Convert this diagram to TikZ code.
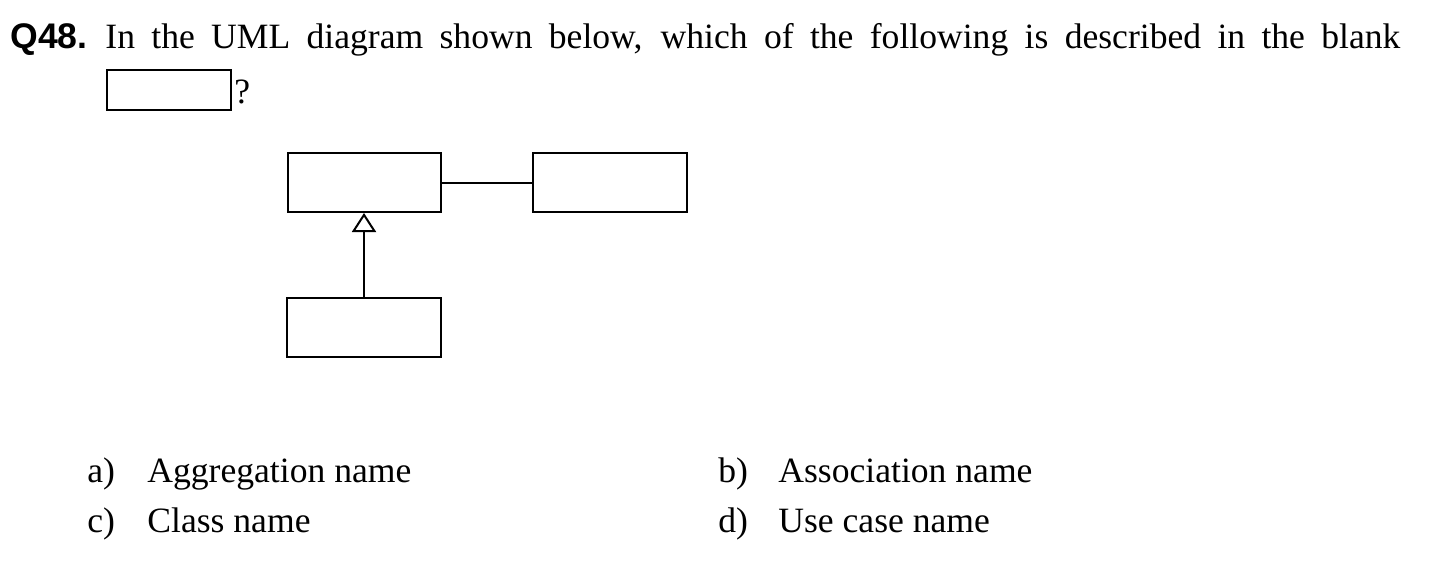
\documentclass[tikz,border=0pt]{standalone}
\usepackage{fontspec}
\setmainfont{Liberation Serif}
\newfontfamily\qfont{Liberation Sans}
\usetikzlibrary{arrows.meta}
\tikzset{
  txt/.style={anchor=base west, inner sep=0pt, font=\fontsize{17.8pt}{21pt}\selectfont},
  umlbox/.style={draw, line width=1pt, inner sep=0pt, minimum height=29.5pt},
  conn/.style={line width=1pt},
  gen/.style={conn, -{Triangle[open, length=9.5pt, width=12pt, line width=1pt]}}
}
\begin{document}
\begin{tikzpicture}[x=0.5pt, y=-0.5pt]
\useasboundingbox (0,0) rectangle (1450,568);
% question
\node[txt] (q) at (10,48) {\qfont\bfseries Q48.};
\node[txt] (qt) at (105,48) {\makebox[647.5pt][s]{In the UML diagram shown below, which of the following is described in the blank}};
\node[draw, line width=1pt, inner sep=0pt, minimum width=62pt, minimum height=20pt] (blank) at (169,90) {};
\node[txt] (qm) at (234,103) {?};
% diagram
\node[umlbox, minimum width=76.5pt] (c1) at (364,182.5) {};
\node[umlbox, minimum width=77pt] (c2) at (610,182.5) {};
\node[umlbox, minimum width=77pt] (c3) at (364,327.5) {};
\draw[conn] (c1.east) -- (c2.west);
\draw[gen] (c3.north) -- (c1.south);
% answers
\node[txt] (la) at (87,482) {a)};
\node[txt] (ta) at (147,482) {Aggregation name};
\node[txt] (lb) at (718,482) {b)};
\node[txt] (tb) at (778,482) {Association name};
\node[txt] (lc) at (87,532) {c)};
\node[txt] (tc) at (147,532) {Class name};
\node[txt] (ld) at (718,532) {d)};
\node[txt] (td) at (778,532) {Use case name};
\end{tikzpicture}
\end{document}
